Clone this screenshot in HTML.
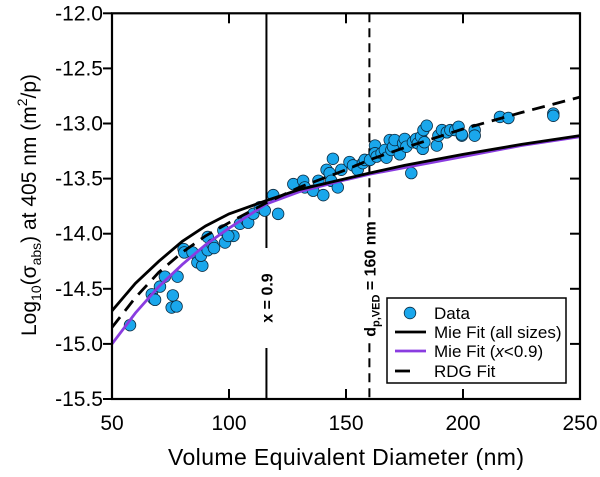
<!DOCTYPE html>
<html><head><meta charset="utf-8"><style>
html,body{margin:0;padding:0;background:#fff;}
svg{display:block;font-family:"Liberation Sans",Arial,sans-serif;}
</style></head><body>
<svg id="chart" width="600" height="477" viewBox="0 0 600 477">
<g id="marks"></g>
<g id="axes"></g>
</svg>
<script>
const xTicks=[50,100,150,200,250];
const yTicks=[-12.0,-12.5,-13.0,-13.5,-14.0,-14.5,-15.0,-15.5];
const dataD=[57.7,67,67.7,68.4,70.5,72.6,75.5,77.6,76,78,80.6,80.9,84.4,86.5,88.6,88,90.9,90.9,93,93.6,97.6,98.3,101.9,99.7,104.7,107.5,108.2,110.4,113.2,115.3,118.9,121,127.5,131.7,132.4,136,138.2,140.3,141.7,143,143.7,144.4,146.5,148,151.5,153,155,157.2,158,160.3,162.4,162.4,163.1,165.2,166.6,167.3,168.7,169.4,170.1,170.8,173,174.4,175.1,175.8,177.9,178.6,180,180.7,182.1,182.8,183.5,183.1,184.5,188.8,189.5,191,193.1,194.6,196.7,198.1,199.5,199.5,205,205,215.8,219.4,238.6,238.6];
const dataV=[-14.83,-14.55,-14.59,-14.6,-14.48,-14.39,-14.67,-14.66,-14.56,-14.39,-14.14,-14.17,-14.17,-14.26,-14.29,-14.2,-14.03,-14.15,-14.1,-14.13,-13.97,-14.08,-14.02,-14.02,-13.91,-13.88,-13.9,-13.82,-13.76,-13.79,-13.65,-13.82,-13.55,-13.52,-13.58,-13.61,-13.52,-13.65,-13.42,-13.45,-13.52,-13.32,-13.58,-13.42,-13.35,-13.38,-13.42,-13.36,-13.33,-13.33,-13.2,-13.27,-13.3,-13.27,-13.24,-13.31,-13.15,-13.24,-13.21,-13.15,-13.28,-13.18,-13.14,-13.21,-13.45,-13.17,-13.14,-13.18,-13.12,-13.23,-13.17,-13.06,-13.02,-13.2,-13.11,-13.06,-13.08,-13.06,-13.06,-13.03,-13.11,-13.1,-13.06,-13.11,-12.94,-12.95,-12.91,-12.93];
const curveD=[50,60,70,80,90,100,116,130,150,160,175,200,225,250];
const mieAll=[-14.7,-14.45,-14.25,-14.07,-13.93,-13.82,-13.7,-13.6,-13.5,-13.45,-13.38,-13.28,-13.19,-13.11];
const mieSmall=[-15.0,-14.72,-14.48,-14.28,-14.1,-13.95,-13.73,-13.62,-13.51,-13.46,-13.4,-13.3,-13.2,-13.12];
const rdg=[-14.85,-14.58,-14.35,-14.17,-14.02,-13.9,-13.72,-13.58,-13.42,-13.33,-13.22,-13.05,-12.9,-12.76];
const X0=112,X1=580,Y0=13.3,Y1=399;
const sx=d=>X0+(d-50)/200*(X1-X0);
const sy=v=>Y0+(-12-v)/3.5*(Y1-Y0);
const NS='http://www.w3.org/2000/svg';
const marks=document.getElementById('marks'),axes=document.getElementById('axes');
function mk(tag,attrs,parent){const e=document.createElementNS(NS,tag);for(const k in attrs)e.setAttribute(k,attrs[k]);parent.appendChild(e);return e;}
const defs=mk('defs',{},marks);const cp=mk('clipPath',{id:'cp'},defs);mk('rect',{x:X0,y:Y0,width:X1-X0,height:Y1-Y0},cp);
let l=mk('line',{x1:sx(116),x2:sx(116),y1:Y0,y2:248,stroke:'#000','stroke-width':2},marks);


l=mk('line',{x1:sx(116),x2:sx(116),y1:348,y2:Y1,stroke:'#000','stroke-width':2},marks);


let t=mk('text',{x:0,y:0,transform:`translate(${sx(116)+6},298) rotate(-90)`,'text-anchor':'middle','font-size':16,'font-weight':'bold'},marks);
t.textContent='x = 0.9';


l=mk('line',{x1:sx(160),x2:sx(160),y1:Y0,y2:Y1,stroke:'#000','stroke-width':2,'stroke-dasharray':'9,6'},marks);


mk('rect',{x:sx(160)-10,y:220,width:20,height:118,fill:'#fff'},marks);
t=mk('text',{x:0,y:0,transform:`translate(${sx(160)+6},279) rotate(-90)`,'text-anchor':'middle','font-size':16,'font-weight':'bold'},marks);
t.innerHTML='d<tspan font-size="11" dy="4">p,VED</tspan><tspan dy="-4"> = 160 nm</tspan>';


const cg=mk('g',{'clip-path':'url(#cp)'},marks);
dataD.forEach((d,i)=>{const c=mk('circle',{cx:sx(d),cy:sy(dataV[i]),r:5.8,fill:'#1aa7ec',stroke:'#0a2a40','stroke-width':0.8},cg);

});
function path(vals,style,name){const dd=curveD.map((d,i)=>(i?'L':'M')+sx(d).toFixed(1)+','+sy(vals[i]).toFixed(1)).join('');
const p=mk('path',Object.assign({d:dd,fill:'none'},style),cg);

}
path(mieSmall,{stroke:'#8a3ce0','stroke-width':2.8},'mie-fit-small-line');
path(mieAll,{stroke:'#000','stroke-width':2.8},'mie-fit-all-line');
path(rdg,{stroke:'#000','stroke-width':2.8,'stroke-dasharray':'13,8'},'rdg-fit-line');
const fr=mk('rect',{x:X0,y:Y0,width:X1-X0,height:Y1-Y0,fill:'none',stroke:'#000','stroke-width':2.2},axes);


xTicks.forEach(v=>{const x=sx(v);
mk('line',{x1:x,x2:x,y1:Y1,y2:Y1-10,stroke:'#000','stroke-width':2},axes);
mk('line',{x1:x,x2:x,y1:Y0,y2:Y0+10,stroke:'#000','stroke-width':2},axes);
const tt=mk('text',{x:x,y:430,'text-anchor':'middle','font-size':21},axes);tt.textContent=v;

});
yTicks.forEach(v=>{const y=sy(v);
mk('line',{x1:X0-9,x2:X0,y1:y,y2:y,stroke:'#000','stroke-width':2},axes);
mk('line',{x1:X1,x2:X1-10,y1:y,y2:y,stroke:'#000','stroke-width':2},axes);
const tt=mk('text',{x:X0-9,y:y+7,'text-anchor':'end','font-size':21},axes);tt.textContent=v.toFixed(1);

});
t=mk('text',{x:346,y:465,'text-anchor':'middle','font-size':23,textLength:356},axes);t.textContent='Volume Equivalent Diameter (nm)';


t=mk('text',{x:0,y:0,transform:'translate(36,205) rotate(-90)','text-anchor':'middle','font-size':21},axes);
t.innerHTML='Log<tspan font-size="14" dy="5">10</tspan><tspan dy="-5">(σ</tspan><tspan font-size="14" dy="5">abs</tspan><tspan dy="-5">) at 405 nm (m</tspan><tspan font-size="14" dy="-9">2</tspan><tspan dy="9">/p)</tspan>';


const lg=mk('g',{},axes);


mk('rect',{x:387,y:298,width:179,height:85,fill:'#fff',stroke:'#000','stroke-width':1.5},lg);
mk('circle',{cx:410,cy:313,r:5.8,fill:'#1aa7ec',stroke:'#0a2a40','stroke-width':0.8},lg);
mk('line',{x1:395,x2:426,y1:332,y2:332,stroke:'#000','stroke-width':2.8},lg);
mk('line',{x1:395,x2:426,y1:351,y2:351,stroke:'#8a3ce0','stroke-width':2.8},lg);
mk('line',{x1:395,x2:410,y1:371,y2:371,stroke:'#000','stroke-width':2.8},lg);
[['Data',313],['Mie Fit (all sizes)',332],['Mie Fit (<tspan font-style="italic">x</tspan>&lt;0.9)',351],['RDG Fit',371]].forEach(([s,y])=>{
const e=mk('text',{x:434,y:y+6,'font-size':17},lg);e.innerHTML=s;

});
</script>
</body></html>
